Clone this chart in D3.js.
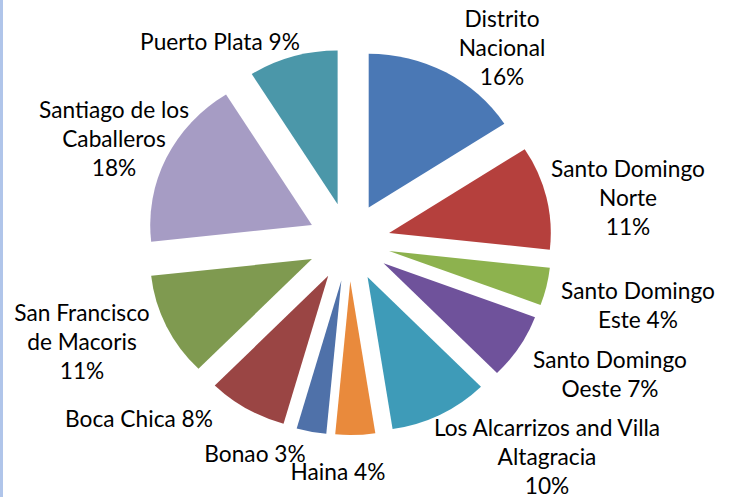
<!DOCTYPE html>
<html>
<head>
<meta charset="utf-8">
<script src="https://cdn.jsdelivr.net/npm/d3@7"></script>
<style>
  body { margin: 0; background: #fff; }
  svg { display: block; }
  .lbl { font-family: "Lato", "Open Sans", sans-serif; font-size: 22.7px; fill: #000; }
</style>
</head>
<body>
<div id="chart"></div>
<script>
// slices clockwise from 12 o'clock
const names = [
  "Distrito|Nacional",
  "Santo Domingo|Norte",
  "Santo Domingo|Este",
  "Santo Domingo|Oeste",
  "Los Alcarrizos and Villa|Altagracia",
  "Haina",
  "Bonao",
  "Boca Chica",
  "San Francisco|de Macoris",
  "Santiago de los|Caballeros",
  "Puerto Plata"
];
const values = [16, 11, 4, 7, 10, 4, 3, 8, 11, 18, 9];
// percent on its own line?
const pctNewLine = [true, true, false, false, true, false, false, false, true, true, false];

const colors = [
  "#4a78b5", "#b5403d", "#8db24e", "#6f529b", "#3e9bb8", "#e98a3c",
  "#4f71a9", "#9a4544", "#7f9a50", "#a69cc4", "#4b97a9"
];

// label anchors (center x, first baseline)
const labelPos = [
  [502, 27], [628, 177], [638, 299], [610, 368], [547, 436], [338, 480],
  [255, 462], [139, 427], [82, 321], [114, 118], [220, 50]
];

const W = 737, H = 497;
const cx = 349, cy = 242, R = 157, explode = 40, lineH = 29;

const svg = d3.select("#chart").append("svg")
  .attr("width", W)
  .attr("height", H);

svg.append("rect")
  .attr("x", 0).attr("y", 0)
  .attr("width", 3).attr("height", H)
  .attr("fill", "#b0c5ea");

const pie = d3.pie().sort(null).value(d => d.value);
const arc = d3.arc().innerRadius(0).outerRadius(R);

const data = values.map((v, i) => ({ name: names[i], value: v, i: i }));
const arcs = pie(data);

const g = svg.append("g").attr("transform", `translate(${cx},${cy}) scale(1.03,0.98)`);

g.selectAll(".slice")
  .data(arcs)
  .enter()
  .append("path")
  .attr("class", "slice")
  .attr("d", arc)
  .attr("fill", d => colors[d.data.i])
  .attr("transform", d => {
    const mid = (d.startAngle + d.endAngle) / 2;
    return `translate(${Math.sin(mid) * explode},${-Math.cos(mid) * explode})`;
  });

// labels
const labels = svg.selectAll(".lbl")
  .data(data)
  .enter()
  .append("text")
  .attr("class", "lbl")
  .attr("text-anchor", "middle")
  .attr("x", d => labelPos[d.i][0])
  .attr("y", d => labelPos[d.i][1]);

labels.each(function (d) {
  const parts = d.name.split("|");
  const pct = d.value + "%";
  if (pctNewLine[d.i]) parts.push(pct);
  else parts[parts.length - 1] += " " + pct;
  const t = d3.select(this);
  parts.forEach((p, k) => {
    t.append("tspan")
      .attr("x", labelPos[d.i][0])
      .attr("dy", k === 0 ? 0 : lineH)
      .text(p);
  });
});
</script>
</body>
</html>
